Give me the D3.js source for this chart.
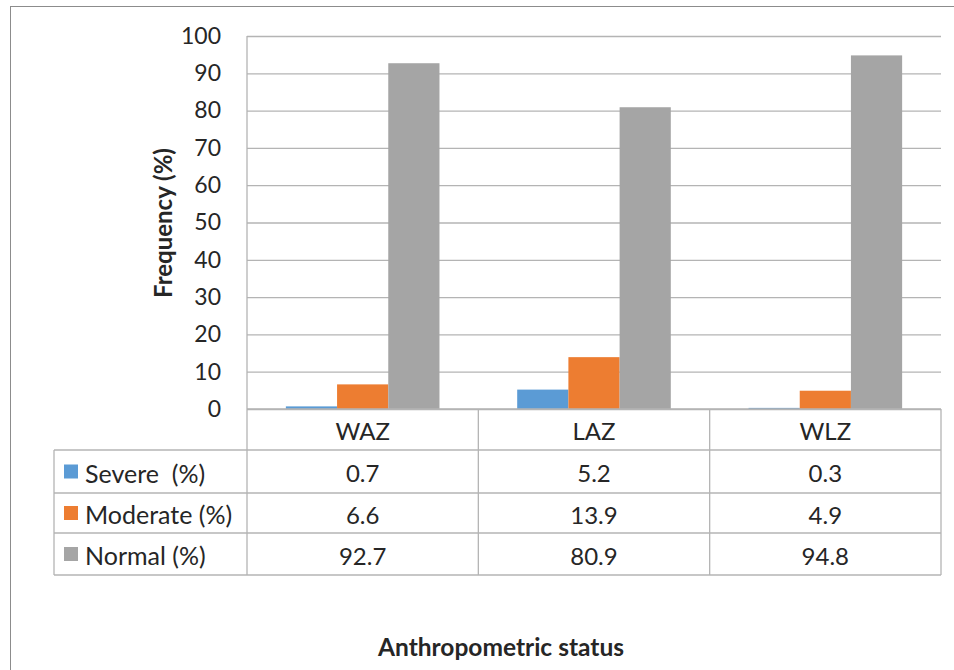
<!DOCTYPE html>
<html>
<head>
<meta charset="utf-8">
<script src="https://cdn.jsdelivr.net/npm/d3@7"></script>
<style>
  body { margin: 0; background: #fff; }
  text { font-family: Lato, "Open Sans", sans-serif; fill: #262626; }
</style>
</head>
<body>
<div id="chart"></div>
<script>
// data
const categories = ["WAZ", "LAZ", "WLZ"];
const seriesNames = ["Severe  (%)", "Moderate (%)", "Normal (%)"];
const severe = [0.7, 5.2, 0.3];
const moderate = [6.6, 13.9, 4.9];
const normal = [92.7, 80.9, 94.8];
const yTicks = [0, 10, 20, 30, 40, 50, 60, 70, 80, 90, 100];
const colors = ["#5B9BD5", "#ED7D31", "#A5A5A5"];

const series = [severe, moderate, normal];

const width = 954, height = 670;
const plotLeft = 247, plotRight = 941, plotTop = 36, plotBottom = 409;
const tableLeft = 54;
const rowLines = [409, 450, 493, 533, 575];
const gridColor = "#b4b4b4";

const svg = d3.select("#chart").append("svg")
  .attr("width", width)
  .attr("height", height);

// outer frame
svg.append("rect")
  .attr("x", 10.5).attr("y", 6.5)
  .attr("width", 960).attr("height", 700)
  .attr("fill", "none").attr("stroke", "#8c8c8c").attr("stroke-width", 1);

const x = d3.scaleBand()
  .domain(categories)
  .range([plotLeft, plotRight])
  .paddingInner(0).paddingOuter(0);

const gap = x.bandwidth() * 0.168;
const xs = d3.scaleBand()
  .domain(d3.range(series.length))
  .range([gap, x.bandwidth() - gap])
  .padding(0);

const y = d3.scaleLinear()
  .domain([0, 100])
  .range([plotBottom, plotTop]);

// grid + axis
const yAxis = d3.axisLeft(y)
  .tickValues(yTicks)
  .tickSize(-(plotRight - plotLeft))
  .tickPadding(26);

const gy = svg.append("g")
  .attr("transform", "translate(" + plotLeft + ",0)")
  .call(yAxis);
gy.select(".domain").remove();
gy.selectAll(".tick line").attr("stroke", gridColor).attr("stroke-width", 1.3);
gy.selectAll(".tick text")
  .style("font-size", "23px")
  .attr("fill", "#262626");

// bars
series.forEach(function(vals, si) {
  svg.append("g")
    .selectAll("rect")
    .data(vals)
    .enter()
    .append("rect")
    .attr("x", function(d, i) { return x(categories[i]) + xs(si); })
    .attr("y", function(d) { return y(d); })
    .attr("width", xs.bandwidth())
    .attr("height", function(d) { return y(0) - y(d); })
    .attr("fill", colors[si]);
});

// table lines
const tbl = svg.append("g").attr("stroke", gridColor).attr("stroke-width", 1.3);
rowLines.forEach(function(ry, i) {
  tbl.append("line")
    .attr("x1", i === 0 ? plotLeft : tableLeft).attr("x2", plotRight)
    .attr("y1", ry).attr("y2", ry);
});
// left axis line (plot + table)
tbl.append("line")
  .attr("x1", plotLeft).attr("x2", plotLeft)
  .attr("y1", plotTop).attr("y2", rowLines[4]);
tbl.append("line")
  .attr("x1", tableLeft).attr("x2", tableLeft)
  .attr("y1", rowLines[1]).attr("y2", rowLines[4]);
categories.forEach(function(c) {
  tbl.append("line")
    .attr("x1", x(c) + x.bandwidth()).attr("x2", x(c) + x.bandwidth())
    .attr("y1", rowLines[0]).attr("y2", rowLines[4]);
});

// category header
svg.append("g").selectAll("text")
  .data(categories)
  .enter()
  .append("text")
  .attr("x", function(d) { return x(d) + x.bandwidth() / 2; })
  .attr("y", (rowLines[0] + rowLines[1]) / 2 + 1)
  .attr("text-anchor", "middle")
  .attr("dominant-baseline", "central")
  .style("font-size", "24px")
  .text(function(d) { return d; });

// rows
series.forEach(function(vals, si) {
  const cy = (rowLines[si + 1] + rowLines[si + 2]) / 2;
  svg.append("rect")
    .attr("x", 64).attr("y", cy - 7)
    .attr("width", 14).attr("height", 14)
    .attr("fill", colors[si]);
  svg.append("text")
    .attr("x", 85).attr("y", cy + 1)
    .attr("dominant-baseline", "central")
    .attr("xml:space", "preserve")
    .style("white-space", "pre")
    .style("font-size", "25px")
    .text(seriesNames[si]);
  svg.append("g").selectAll("text")
    .data(vals)
    .enter()
    .append("text")
    .attr("x", function(d, i) { return x(categories[i]) + x.bandwidth() / 2; })
    .attr("y", cy + 1)
    .attr("text-anchor", "middle")
    .attr("dominant-baseline", "central")
    .style("font-size", "24px")
    .text(function(d) { return d; });
});

// axis titles
svg.append("text")
  .attr("transform", "translate(162,223) rotate(-90)")
  .attr("text-anchor", "middle")
  .attr("dominant-baseline", "central")
  .style("font-size", "24px")
  .style("font-weight", "bold")
  .text("Frequency (%)");

svg.append("text")
  .attr("x", 501).attr("y", 646)
  .attr("text-anchor", "middle")
  .attr("dominant-baseline", "central")
  .style("font-size", "24.5px")
  .style("font-weight", "bold")
  .text("Anthropometric status");
</script>
</body>
</html>
